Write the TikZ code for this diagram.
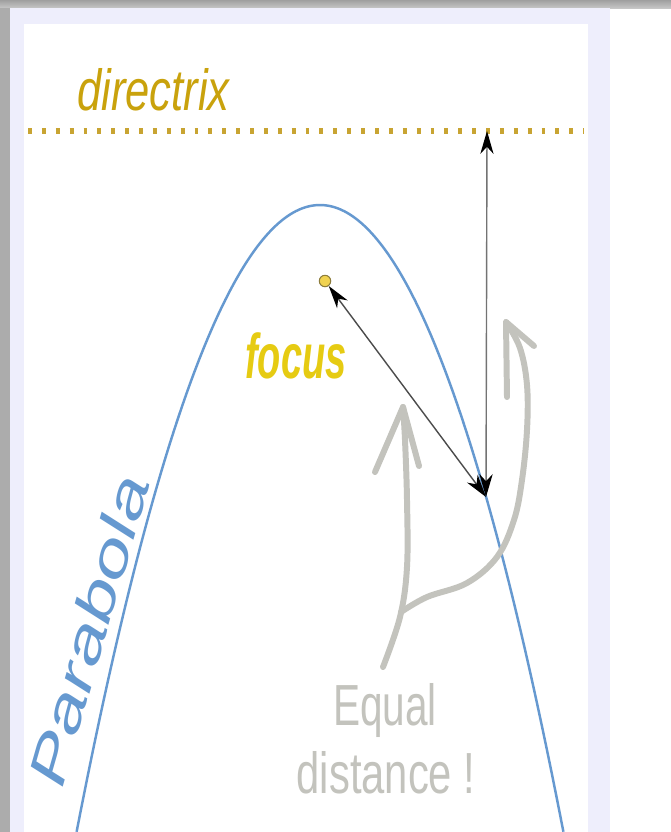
\documentclass[tikz,border=0pt]{standalone}
\usepackage{fontspec}
\setsansfont{Liberation Sans}
\usetikzlibrary{arrows.meta}
\definecolor{dirgold}{HTML}{C9A20C}
\definecolor{dotgold}{HTML}{C8A432}
\definecolor{focgold}{HTML}{E6CB12}
\definecolor{parablue}{HTML}{6699D0}
\definecolor{hintgray}{HTML}{C3C3BD}
\definecolor{framelav}{HTML}{EEEEFC}
\definecolor{focfill}{HTML}{F0D250}
\definecolor{focedge}{HTML}{8C7C3C}
\begin{document}
\begin{tikzpicture}[x=0.02cm,y=-0.02cm,
  both/.style={{Stealth[length=13pt,width=7.5pt,inset=4pt,color=black]}-{Stealth[length=13pt,width=7.5pt,inset=4pt,color=black]}},
  hint/.style={draw=hintgray,line width=3.4pt,line cap=round,line join=round},
  lbl/.style={inner sep=0pt,anchor=base west}]
\useasboundingbox (0,0) rectangle (671,832);
\fill[white] (0,0) rectangle (671,832);
\shade[top color=gray!75,bottom color=gray!45] (0,0) rectangle (671,8);
\fill[gray!65] (0,8) rectangle (10,832);
\fill[framelav] (10,8) rectangle (610,832);
\fill[white] (24,24) rectangle (588,832);
\draw[dotgold,line width=3pt,dash pattern=on 2.2pt off 5.7pt] (28,131) -- (584,131);
\draw[parablue,line width=1.4pt] plot[domain=-24.34:24.34,samples=90,smooth] ({320+10*\x},{205+1.058*\x*\x});
\node[lbl,text=dirgold,font=\sffamily\itshape\fontsize{33}{33}\selectfont,xscale=0.75] (dirlabel) at (77,110) {directrix};
\node[lbl,text=focgold,font=\sffamily\bfseries\itshape\fontsize{36}{36}\selectfont,xscale=0.6] (foclabel) at (245,378) {focus};
\node[lbl,text=parablue,font=\sffamily\itshape\fontsize{30}{30}\selectfont,rotate=74,xscale=1.52] (paralabel) at (62,790) {Parabola};
\node[text=hintgray,font=\sffamily\fontsize{33}{33}\selectfont,xscale=0.7,inner sep=0pt,anchor=base] (eqlabel) at (385,725) {Equal};
\node[text=hintgray,font=\sffamily\fontsize{33}{33}\selectfont,xscale=0.72,inner sep=0pt,anchor=base] (distlabel) at (386,793) {distance !};
\node[circle,draw=focedge,fill=focfill,line width=0.6pt,minimum size=6.5pt,inner sep=0pt] (focus) at (325,281) {};
\coordinate (dirpt) at (487,131);
\coordinate (ptP) at (486,497);
\draw[both,gray!90!black,line width=0.8pt] (dirpt) -- (ptP);
\draw[both,black!70,line width=0.8pt] (focus) -- (ptP);
\draw[hint] plot[smooth,tension=0.6] coordinates {(383,667) (400,617) (407,567) (407,500) (405,440) (403,407)};
\draw[hint] (375,472) -- (403,407) -- (419,466);
\draw[hint] plot[smooth,tension=0.6] coordinates {(401,612) (427,597) (467,583) (497,557) (514,520) (522,480) (527,430) (527,385) (520,348) (506,322)};
\draw[hint] (507,397) -- (506,322) -- (534,346);
\end{tikzpicture}
\end{document}
